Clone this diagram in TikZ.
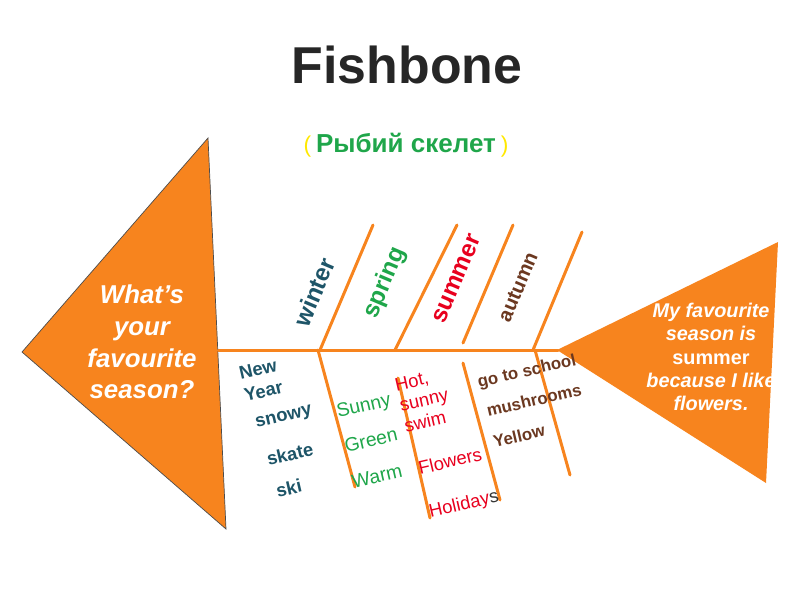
\documentclass[tikz,border=0pt]{standalone}
\usepackage{fontspec}
\setmainfont{Liberation Sans}
\usepackage{xcolor}
\usetikzlibrary{positioning}
\definecolor{cFish}{HTML}{F7841E}
\definecolor{cWinter}{HTML}{1E5568}
\definecolor{cSpring}{HTML}{1FA64A}
\definecolor{cSummer}{HTML}{E8001E}
\definecolor{cAutumn}{HTML}{6B3820}
\definecolor{cParen}{HTML}{FFE800}
\tikzset{
  bone/.style  ={draw=cFish, line width=1.7pt, line cap=round},
  season/.style={font=\fontsize{13.8}{15}\selectfont\bfseries, rotate=67, inner sep=0pt},
  fact/.style  ={rotate=13, align=left, inner sep=0pt},
  say/.style   ={text=white, align=center, inner sep=0pt},
}

\begin{document}
\begin{tikzpicture}[x=0.02cm, y=-0.02cm]
        \useasboundingbox (0,0) rectangle (800,600);
        % head and tail
        \filldraw[fill=cFish, draw=black!70, line width=0.4pt] (22,352) -- (208,138) -- (226,529) -- cycle;
        \fill[cFish] (557,350) -- (778,242) -- (766,483) -- cycle;
        % spine and bones
        \coordinate (tail) at (218,350); \coordinate (mouth) at (558,350);
        \draw[bone] (tail) -- (mouth);
        \coordinate (w0) at (320,350); \coordinate (w1) at (373,225);
        \coordinate (s0) at (395,350); \coordinate (s1) at (457,225);
        \coordinate (u0) at (463,343); \coordinate (u1) at (513,225);
        \coordinate (a0) at (533,350); \coordinate (a1) at (582,232);
        \draw[bone] (w0) -- (w1); \draw[bone] (s0) -- (s1);
        \draw[bone] (u0) -- (u1); \draw[bone] (a0) -- (a1);
        \coordinate (wl0) at (318,350); \coordinate (wl1) at (355,487);
        \coordinate (sl0) at (398,378); \coordinate (sl1) at (430,518);
        \coordinate (ul0) at (463,363); \coordinate (ul1) at (500,500);
        \coordinate (al0) at (535,350); \coordinate (al1) at (570,475);
        \draw[bone] (wl0) -- (wl1); \draw[bone] (sl0) -- (sl1);
        \draw[bone] (ul0) -- (ul1); \draw[bone] (al0) -- (al1);
        % titles
        \node[font=\fontsize{29.5}{32}\selectfont\bfseries, text=black!85] (title) at (407,65) {Fishbone};
        \node (sub) at (406,145) {\textcolor{cParen}{\fontsize{13}{15}\selectfont(}\
          \textcolor{cSpring}{\fontsize{14.8}{16}\selectfont\bfseries Рыбий скелет}\
          \textcolor{cParen}{\fontsize{13}{15}\selectfont)}};
        % seasons
        \node[season, text=cWinter] (winter) at (314,292) {winter};
        \node[season, text=cSpring] (spring) at (385,283) {spring};
        \node[season, text=cSummer] (summer) at (457,279) {summer};
        \node[season, text=cAutumn, font=\fontsize{11.5}{13}\selectfont\bfseries] (autumn) at (518,287) {autumn};
        % winter words
        \node[fact, text=cWinter, font=\fontsize{10.5}{13}\selectfont\bfseries] (newyear) at (261,380) {New\\ Year};
        \node[fact, text=cWinter, font=\fontsize{10.5}{13}\selectfont\bfseries] (snowy) at (284,418) {snowy};
        \node[fact, text=cWinter, font=\fontsize{10.5}{13}\selectfont\bfseries] (skate) at (290,454) {skate};
        \node[fact, text=cWinter, font=\fontsize{10.5}{13}\selectfont\bfseries] (ski) at (289,488) {ski};
        % spring words
        \node[fact, text=cSpring, font=\fontsize{11}{13}\selectfont] (sunny) at (364,407) {Sunny};
        \node[fact, text=cSpring, font=\fontsize{11}{13}\selectfont] (green) at (371,440) {Green};
        \node[fact, text=cSpring, font=\fontsize{11}{13}\selectfont] (warm) at (377,476) {Warm};
        % summer words
        \node[fact, text=cSummer, font=\fontsize{10.5}{12}\selectfont] (hot) at (424,400) {Hot,\\ sunny\\ swim};
        \node[fact, text=cSummer, font=\fontsize{10.5}{12}\selectfont] (flowers) at (450,461) {Flowers};
        \node[fact, font=\fontsize{10.5}{12}\selectfont] (holidays) at (464,505) {\textcolor{cSummer}{Holiday}\textcolor{black!80}{s}};
        % autumn words
        \node[fact, text=cAutumn, font=\fontsize{9.6}{12}\selectfont\bfseries] (school) at (527,372) {go to school};
        \node[fact, text=cAutumn, font=\fontsize{9.6}{12}\selectfont\bfseries] (mushrooms) at (534,400) {mushrooms};
        \node[fact, text=cAutumn, font=\fontsize{9.6}{12}\selectfont\bfseries] (yellow) at (519,436) {Yellow};
        % question and answer
        \node[say, font=\fontsize{14.7}{18}\selectfont\bfseries\itshape] (question) at (142,342) {What’s\\ your\\ favourite\\ season?};
        \node[say, font=\fontsize{11.3}{13.3}\selectfont\bfseries\itshape] (answer) at (711,357) {My favourite\\ season is\\ {\upshape summer}\\ because I like\\ flowers.};
      \end{tikzpicture}
\end{document}
